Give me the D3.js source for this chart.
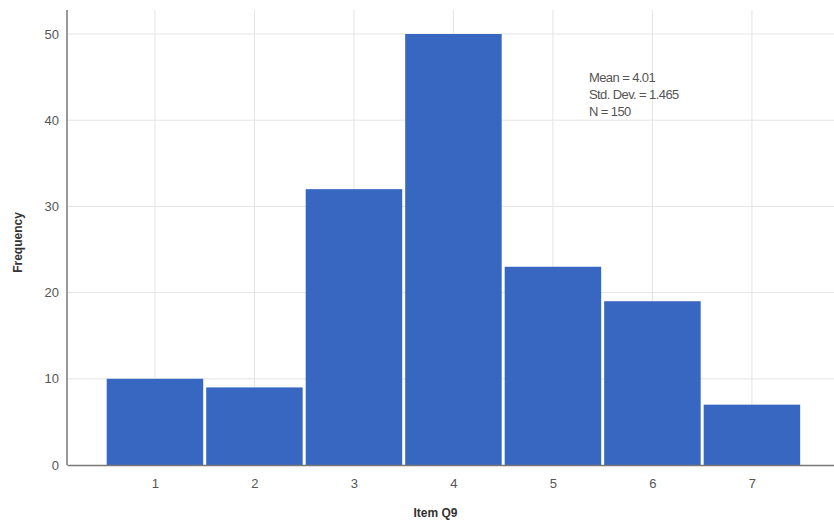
<!DOCTYPE html>
<html>
<head>
<meta charset="utf-8">
<script src="https://cdn.jsdelivr.net/npm/d3@7"></script>
<style>
  body { margin: 0; background: #fff; }
  text { font-family: "Liberation Sans", Arial, sans-serif; }
</style>
</head>
<body>
<div id="chart"></div>
<script>
// Histogram data (Item Q9)
const categories = [1, 2, 3, 4, 5, 6, 7]
const frequencies = [10, 9, 32, 50, 23, 19, 7]
const yTicks = [0, 10, 20, 30, 40, 50]
const stats = ["Mean = 4.01", "Std. Dev. = 1.465", "N = 150"]

const W = 834, H = 524
const margin = { top: 10, right: 0, bottom: 59, left: 67 }
const width = W - margin.left - margin.right
const height = H - margin.top - margin.bottom

const svg = d3.select("#chart")
  .append("svg")
  .attr("width", W)
  .attr("height", H)
  .append("g")
  .attr("transform", "translate(" + margin.left + "," + margin.top + ")");

// x: bin centres 1..7, about 99.5px per unit
const x = d3.scaleLinear()
  .domain([0.116, 7.825])
  .range([0, width]);

const y = d3.scaleLinear()
  .domain([0, 50])
  .range([height, 24]);

// grid
svg.selectAll("line.hgrid")
  .data(yTicks.filter(d => d > 0))
  .enter().append("line")
  .attr("class", "hgrid")
  .attr("x1", 0).attr("x2", width)
  .attr("y1", d => y(d)).attr("y2", d => y(d))
  .style("stroke", "#e4e4e4")
  .style("stroke-width", 1);

svg.selectAll("line.vgrid")
  .data(categories)
  .enter().append("line")
  .attr("class", "vgrid")
  .attr("x1", d => x(d)).attr("x2", d => x(d))
  .attr("y1", 0).attr("y2", height)
  .style("stroke", "#e4e4e4")
  .style("stroke-width", 1);

// bars
svg.selectAll(".bar")
  .data(categories)
  .enter().append("rect")
  .attr("class", "bar")
  .attr("x", d => x(d - 0.5) + 1.5)
  .attr("width", d => x(d + 0.5) - x(d - 0.5) - 3)
  .attr("y", (d, i) => y(frequencies[i]))
  .attr("height", (d, i) => y(0) - y(frequencies[i]))
  .attr("fill", "#3767c1");

// axes
const xAxis = d3.axisBottom(x)
  .tickValues(categories)
  .tickSize(0)
  .tickPadding(14);

const yAxis = d3.axisLeft(y)
  .tickValues(yTicks)
  .tickSize(0)
  .tickPadding(8);

svg.append("g")
  .attr("transform", "translate(0," + height + ")")
  .call(xAxis)
  .call(g => g.select(".domain").attr("stroke", "#777").attr("stroke-width", 1.5))
  .selectAll("text")
  .style("font-size", "13px")
  .style("fill", "#555");

svg.append("g")
  .call(yAxis)
  .call(g => g.select(".domain").attr("d", "M0," + height + "V0").attr("stroke", "#777").attr("stroke-width", 1.5))
  .selectAll("text")
  .style("font-size", "13px")
  .style("fill", "#555");

// axis titles
svg.append("text")
  .attr("transform", "translate(" + (-45) + "," + (height / 2 + 5) + ") rotate(-90)")
  .style("text-anchor", "middle")
  .style("font-size", "12px")
  .style("font-weight", "bold")
  .style("fill", "#333")
  .text("Frequency");

svg.append("text")
  .attr("x", x(4) - 18)
  .attr("y", height + 52)
  .style("text-anchor", "middle")
  .style("font-size", "12px")
  .style("font-weight", "bold")
  .style("fill", "#333")
  .text("Item Q9");

// stats box
svg.append("g")
  .selectAll("text")
  .data(stats)
  .enter().append("text")
  .attr("x", 522)
  .attr("y", (d, i) => 72 + i * 17)
  .style("font-size", "13px")
  .style("letter-spacing", "-0.6px")
  .style("fill", "#555")
  .text(d => d);
</script>
</body>
</html>
